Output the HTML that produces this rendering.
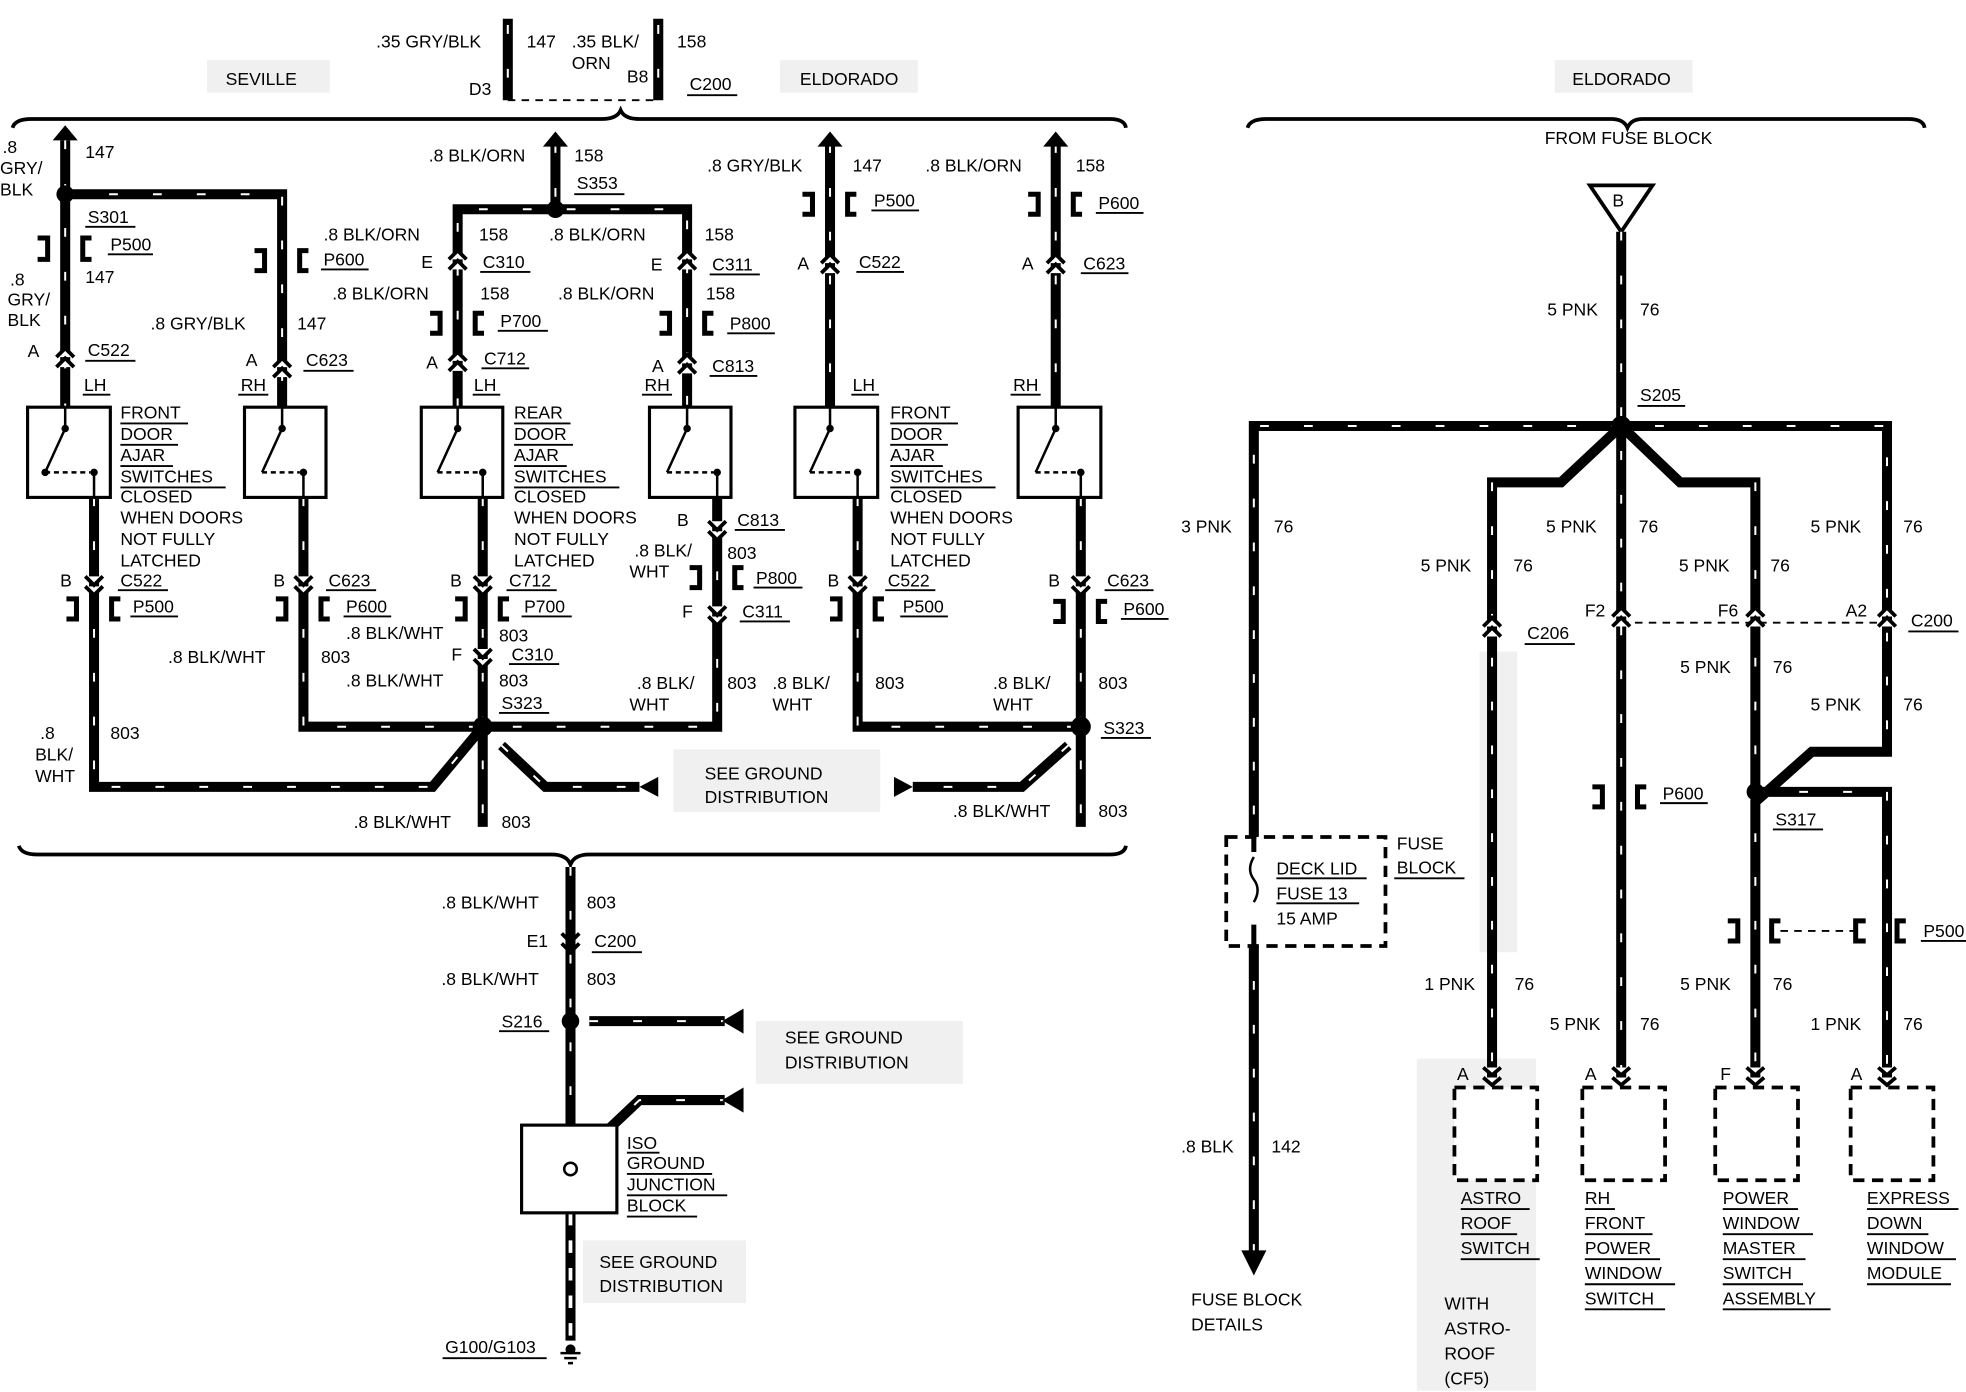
<!DOCTYPE html>
<html><head><meta charset="utf-8"><style>
html,body{margin:0;padding:0;background:#fff}
svg{display:block}
text{font-family:"Liberation Sans",sans-serif;font-size:14px;fill:#000}
.w{fill:none;stroke:#000;stroke-width:8;stroke-linejoin:miter}
.h{fill:none;stroke:#fff;stroke-width:1.6;stroke-dasharray:7 28}
.d{fill:none;stroke:#000;stroke-width:1.5;stroke-dasharray:6 5}
.b{fill:none;stroke:#000;stroke-width:3}
.bx{fill:#fff;stroke:#000;stroke-width:2.5}
.db{fill:#fff;stroke:#000;stroke-width:3;stroke-dasharray:9 6}
.ul{stroke:#000;stroke-width:1.5}
.st{fill:#f0f0f0}
</style></head><body>
<svg width="1966" height="1392" viewBox="0 0 1568 1111" preserveAspectRatio="none" xmlns="http://www.w3.org/2000/svg">
<rect class="st" x="165" y="48" width="98" height="26"/>
<rect class="st" x="622" y="48" width="110" height="26"/>
<rect class="st" x="1240" y="48" width="110" height="26"/>
<rect class="st" x="537" y="598" width="165" height="50"/>
<rect class="st" x="603" y="815" width="165" height="50"/>
<rect class="st" x="465" y="990" width="130" height="50"/>
<rect class="st" x="1130" y="845" width="95" height="265"/>
<rect class="st" x="1180" y="520" width="30" height="240"/>

<path class="w" d="M405 15 V80 M525 15 V80"/>
<path class="h" d="M405 20 V80 M525 20 V80"/>
<line class="d" x1="405" y1="80" x2="525" y2="80"/>
<text x="300" y="38">.35 GRY/BLK</text><text x="420" y="38">147</text>
<text x="456" y="38">.35 BLK/</text><text x="456" y="55">ORN</text><text x="540" y="38">158</text>
<text x="374" y="76">D3</text><text x="500" y="66">B8</text><text x="550" y="72">C200</text>
<line class="ul" x1="548" y1="76" x2="588" y2="76"/>
<text x="180" y="68">SEVILLE</text><text x="638" y="68">ELDORADO</text>

<path class="b" d="M10 102 Q12 95 25 95 H480 Q492 95 495 88 Q498 95 510 95 H885 Q897 95 898 102"/>
<path class="b" d="M15 675 Q17 682 30 682 H440 Q452 682 455 690 Q458 682 470 682 H885 Q897 682 898 675"/>
<path class="b" d="M995 102 Q997 95 1010 95 H1285 Q1295 95 1298 102 Q1301 95 1310 95 H1522 Q1534 95 1535 102"/>

<path class="w" d="M52 112 V325 M52 155 H225 V325 M443 115 V167 M365 325 V167 H548 V325 M662 115 V325 M842 115 V325"/>
<path class="h" d="M52 112 V325 M52 155 H225 V325 M443 115 V167 M365 325 V167 H548 V325 M662 115 V325 M842 115 V325"/>
<g fill="#000">
<path d="M42 112 L52 100 L62 112Z"/><path d="M433 117 L443 105 L453 117Z"/>
<path d="M652 117 L662 105 L672 117Z"/><path d="M832 117 L842 105 L852 117Z"/>
<circle cx="52" cy="155" r="7"/><circle cx="443" cy="167" r="7"/>
</g>

<path class="w" d="M75 397 V628 H345 L385 580 M242 397 V580 H572 V397 M385 397 V660 M400 595 L435 628 H510 M684 397 V580 H862 M862 397 V660 M852 595 L815 628 H728"/>
<path class="h" d="M75 397 V628 H345 L385 580 M242 397 V580 H572 V397 M385 397 V660 M400 595 L435 628 H510 M684 397 V580 H862 M862 397 V660 M852 595 L815 628 H728"/>
<g fill="#000">
<circle cx="385" cy="580" r="8"/><circle cx="862" cy="580" r="8"/>
<path d="M525 620 L510 628 L525 636Z"/><path d="M713 620 L728 628 L713 636Z"/>
</g>

<g fill="#fff" stroke="#000" stroke-width="3">
<path d="M45 285 L52 278 L59 285 M45 293 L52 286 L59 293"/>
<path d="M218 293 L225 286 L232 293 M218 301 L225 294 L232 301"/>
<path d="M358 207 L365 200 L372 207 M358 215 L365 208 L372 215"/>
<path d="M541 207 L548 200 L555 207 M541 215 L548 208 L555 215"/>
<path d="M358 288 L365 281 L372 288 M358 296 L365 289 L372 296"/>
<path d="M541 290 L548 283 L555 290 M541 298 L548 291 L555 298"/>
<path d="M655 210 L662 203 L669 210 M655 218 L662 211 L669 218"/>
<path d="M835 210 L842 203 L849 210 M835 218 L842 211 L849 218"/>
<path d="M68 460 L75 467 L82 460 M68 468 L75 475 L82 468"/>
<path d="M235 460 L242 467 L249 460 M235 468 L242 475 L249 468"/>
<path d="M378 460 L385 467 L392 460 M378 468 L385 475 L392 468"/>
<path d="M378 518 L385 525 L392 518 M378 526 L385 533 L392 526"/>
<path d="M565 416 L572 423 L579 416 M565 424 L572 431 L579 424"/>
<path d="M565 484 L572 491 L579 484 M565 492 L572 499 L579 492"/>
<path d="M677 460 L684 467 L691 460 M677 468 L684 475 L691 468"/>
<path d="M855 460 L862 467 L869 460 M855 468 L862 475 L869 468"/>
<path d="M448 745 L455 752 L462 745 M448 753 L455 760 L462 753"/>
</g>
<g fill="none" stroke="#000" stroke-width="4">
<path d="M30 190 H38 V207 H30 M73 190 H66 V207 H73"/>
<path d="M203 200 H211 V216 H203 M246 200 H239 V216 H246"/>
<path d="M343 250 H351 V266 H343 M386 250 H379 V266 H386"/>
<path d="M526 250 H534 V266 H526 M569 250 H562 V266 H569"/>
<path d="M640 155 H648 V171 H640 M683 155 H676 V171 H683"/>
<path d="M820 155 H828 V171 H820 M863 155 H856 V171 H863"/>
<path d="M53 478 H61 V494 H53 M96 478 H89 V494 H96"/>
<path d="M220 478 H228 V494 H220 M263 478 H256 V494 H263"/>
<path d="M363 478 H371 V494 H363 M406 478 H399 V494 H406"/>
<path d="M550 453 H558 V469 H550 M593 453 H586 V469 H593"/>
<path d="M662 478 H670 V494 H662 M705 478 H698 V494 H705"/>
<path d="M840 480 H848 V496 H840 M883 480 H876 V496 H883"/>
<path d="M1270 628 H1278 V644 H1270 M1313 628 H1306 V644 H1313"/>
<path d="M1378 735 H1386 V751 H1378 M1420 735 H1413 V751 H1420"/>
<path d="M1488 735 H1480 V751 H1488 M1520 735 H1513 V751 H1520"/>
</g>
<line class="d" x1="1420" y1="743" x2="1480" y2="743"/>

<g>
<rect class="bx" x="22" y="325" width="66" height="72"/><rect class="bx" x="195" y="325" width="65" height="72"/>
<rect class="bx" x="336" y="325" width="65" height="72"/><rect class="bx" x="518" y="325" width="65" height="72"/>
<rect class="bx" x="634" y="325" width="66" height="72"/><rect class="bx" x="812" y="325" width="66" height="72"/>
</g>
<g fill="none" stroke="#000" stroke-width="2">
<path d="M52 325 V342 L36 377 M75 397 V377"/><path d="M36 377 H72" stroke-dasharray="4 3"/>
<path d="M225 325 V342 L209 377 M242 397 V377"/><path d="M209 377 H239" stroke-dasharray="4 3"/>
<path d="M365 325 V342 L349 377 M385 397 V377"/><path d="M349 377 H382" stroke-dasharray="4 3"/>
<path d="M548 325 V342 L532 377 M572 397 V377"/><path d="M532 377 H569" stroke-dasharray="4 3"/>
<path d="M662 325 V342 L646 377 M684 397 V377"/><path d="M646 377 H681" stroke-dasharray="4 3"/>
<path d="M842 325 V342 L826 377 M862 397 V377"/><path d="M826 377 H859" stroke-dasharray="4 3"/>
</g>
<g fill="#000"><circle cx="52" cy="342" r="3"/><circle cx="75" cy="377" r="3"/><circle cx="36" cy="377" r="3"/>
<circle cx="225" cy="342" r="3"/><circle cx="242" cy="377" r="3"/><circle cx="365" cy="342" r="3"/><circle cx="385" cy="377" r="3"/>
<circle cx="548" cy="342" r="3"/><circle cx="572" cy="377" r="3"/><circle cx="662" cy="342" r="3"/><circle cx="684" cy="377" r="3"/>
<circle cx="842" cy="342" r="3"/><circle cx="862" cy="377" r="3"/></g>

<text x="2" y="122">.8</text><text x="0" y="139">GRY/</text><text x="0" y="156">BLK</text>
<text x="68" y="126">147</text><text x="70" y="178">S301</text><line class="ul" x1="68" y1="181" x2="108" y2="181"/>
<text x="88" y="200">P500</text><line class="ul" x1="86" y1="203" x2="122" y2="203"/>
<text x="68" y="226">147</text>
<text x="8" y="228">.8</text><text x="6" y="244">GRY/</text><text x="6" y="260">BLK</text>
<text x="120" y="263">.8 GRY/BLK</text><text x="237" y="263">147</text>
<text x="258" y="212">P600</text><line class="ul" x1="256" y1="215" x2="294" y2="215"/>
<text x="22" y="285">A</text><text x="70" y="284">C522</text><line class="ul" x1="68" y1="288" x2="108" y2="288"/>
<text x="196" y="292">A</text><text x="244" y="292">C623</text><line class="ul" x1="242" y1="296" x2="282" y2="296"/>
<text x="67" y="312">LH</text><line class="ul" x1="66" y1="315" x2="88" y2="315"/>
<text x="192" y="312">RH</text><line class="ul" x1="190" y1="315" x2="214" y2="315"/>
<g>
<text x="96" y="334">FRONT</text><text x="96" y="351">DOOR</text><text x="96" y="368">AJAR</text><text x="96" y="385">SWITCHES</text>
<line class="ul" x1="96" y1="338" x2="150" y2="338"/><line class="ul" x1="96" y1="355" x2="142" y2="355"/><line class="ul" x1="96" y1="372" x2="138" y2="372"/><line class="ul" x1="96" y1="389" x2="180" y2="389"/>
<text x="96" y="401">CLOSED</text><text x="96" y="418">WHEN DOORS</text><text x="96" y="435">NOT FULLY</text><text x="96" y="452">LATCHED</text>
</g>
<g>
<text x="410" y="334">REAR</text><text x="410" y="351">DOOR</text><text x="410" y="368">AJAR</text><text x="410" y="385">SWITCHES</text>
<line class="ul" x1="410" y1="338" x2="455" y2="338"/><line class="ul" x1="410" y1="355" x2="457" y2="355"/><line class="ul" x1="410" y1="372" x2="452" y2="372"/><line class="ul" x1="410" y1="389" x2="494" y2="389"/>
<text x="410" y="401">CLOSED</text><text x="410" y="418">WHEN DOORS</text><text x="410" y="435">NOT FULLY</text><text x="410" y="452">LATCHED</text>
</g>
<g>
<text x="710" y="334">FRONT</text><text x="710" y="351">DOOR</text><text x="710" y="368">AJAR</text><text x="710" y="385">SWITCHES</text>
<line class="ul" x1="710" y1="338" x2="764" y2="338"/><line class="ul" x1="710" y1="355" x2="756" y2="355"/><line class="ul" x1="710" y1="372" x2="752" y2="372"/><line class="ul" x1="710" y1="389" x2="794" y2="389"/>
<text x="710" y="401">CLOSED</text><text x="710" y="418">WHEN DOORS</text><text x="710" y="435">NOT FULLY</text><text x="710" y="452">LATCHED</text>
</g>
<text x="342" y="129">.8 BLK/ORN</text><text x="458" y="129">158</text>
<text x="460" y="151">S353</text><line class="ul" x1="458" y1="155" x2="498" y2="155"/>
<text x="258" y="192">.8 BLK/ORN</text><text x="382" y="192">158</text>
<text x="438" y="192">.8 BLK/ORN</text><text x="562" y="192">158</text>
<text x="336" y="214">E</text><text x="385" y="214">C310</text><line class="ul" x1="383" y1="217" x2="423" y2="217"/>
<text x="519" y="216">E</text><text x="568" y="216">C311</text><line class="ul" x1="566" y1="219" x2="606" y2="219"/>
<text x="265" y="239">.8 BLK/ORN</text><text x="383" y="239">158</text>
<text x="445" y="239">.8 BLK/ORN</text><text x="563" y="239">158</text>
<text x="399" y="261">P700</text><line class="ul" x1="397" y1="264" x2="437" y2="264"/>
<text x="582" y="263">P800</text><line class="ul" x1="580" y1="266" x2="618" y2="266"/>
<text x="340" y="294">A</text><text x="386" y="291">C712</text><line class="ul" x1="384" y1="294" x2="422" y2="294"/>
<text x="520" y="297">A</text><text x="568" y="297">C813</text><line class="ul" x1="566" y1="300" x2="604" y2="300"/>
<text x="378" y="312">LH</text><line class="ul" x1="377" y1="315" x2="399" y2="315"/>
<text x="514" y="312">RH</text><line class="ul" x1="512" y1="315" x2="536" y2="315"/>
<text x="564" y="137">.8 GRY/BLK</text><text x="680" y="137">147</text>
<text x="738" y="137">.8 BLK/ORN</text><text x="858" y="137">158</text>
<text x="697" y="165">P500</text><line class="ul" x1="695" y1="168" x2="733" y2="168"/>
<text x="876" y="167">P600</text><line class="ul" x1="874" y1="170" x2="912" y2="170"/>
<text x="636" y="215">A</text><text x="685" y="214">C522</text><line class="ul" x1="683" y1="217" x2="721" y2="217"/>
<text x="815" y="215">A</text><text x="864" y="215">C623</text><line class="ul" x1="862" y1="218" x2="900" y2="218"/>
<text x="680" y="312">LH</text><line class="ul" x1="679" y1="315" x2="701" y2="315"/>
<text x="808" y="312">RH</text><line class="ul" x1="806" y1="315" x2="830" y2="315"/>

<text x="48" y="468">B</text><text x="96" y="468">C522</text><line class="ul" x1="94" y1="471" x2="134" y2="471"/>
<text x="218" y="468">B</text><text x="262" y="468">C623</text><line class="ul" x1="260" y1="471" x2="300" y2="471"/>
<text x="359" y="468">B</text><text x="406" y="468">C712</text><line class="ul" x1="404" y1="471" x2="444" y2="471"/>
<text x="540" y="420">B</text><text x="588" y="420">C813</text><line class="ul" x1="586" y1="423" x2="626" y2="423"/>
<text x="580" y="446">803</text><text x="506" y="444">.8 BLK/</text><text x="502" y="461">WHT</text>
<text x="660" y="468">B</text><text x="708" y="468">C522</text><line class="ul" x1="706" y1="471" x2="746" y2="471"/>
<text x="836" y="468">B</text><text x="883" y="468">C623</text><line class="ul" x1="881" y1="471" x2="920" y2="471"/>
<text x="106" y="489">P500</text><line class="ul" x1="104" y1="492" x2="142" y2="492"/>
<text x="276" y="489">P600</text><line class="ul" x1="274" y1="492" x2="312" y2="492"/>
<text x="418" y="489">P700</text><line class="ul" x1="416" y1="492" x2="456" y2="492"/>
<text x="603" y="466">P800</text><line class="ul" x1="601" y1="469" x2="640" y2="469"/>
<text x="720" y="489">P500</text><line class="ul" x1="718" y1="492" x2="756" y2="492"/>
<text x="896" y="491">P600</text><line class="ul" x1="894" y1="494" x2="932" y2="494"/>
<text x="544" y="493">F</text><text x="592" y="493">C311</text><line class="ul" x1="590" y1="496" x2="630" y2="496"/>
<text x="276" y="510">.8 BLK/WHT</text><text x="398" y="512">803</text>
<text x="134" y="529">.8 BLK/WHT</text><text x="256" y="529">803</text>
<text x="360" y="527">F</text><text x="408" y="527">C310</text><line class="ul" x1="406" y1="530" x2="446" y2="530"/>
<text x="276" y="548">.8 BLK/WHT</text><text x="398" y="548">803</text>
<text x="400" y="566">S323</text><line class="ul" x1="398" y1="569" x2="438" y2="569"/>
<text x="508" y="550">.8 BLK/</text><text x="502" y="567">WHT</text><text x="580" y="550">803</text>
<text x="616" y="550">.8 BLK/</text><text x="616" y="567">WHT</text><text x="698" y="550">803</text>
<text x="792" y="550">.8 BLK/</text><text x="792" y="567">WHT</text><text x="876" y="550">803</text>
<text x="880" y="586">S323</text><line class="ul" x1="878" y1="589" x2="918" y2="589"/>
<text x="32" y="590">.8</text><text x="28" y="607">BLK/</text><text x="28" y="624">WHT</text><text x="88" y="590">803</text>
<text x="562" y="622">SEE GROUND</text><text x="562" y="641">DISTRIBUTION</text>
<text x="282" y="661">.8 BLK/WHT</text><text x="400" y="661">803</text>
<text x="760" y="652">.8 BLK/WHT</text><text x="876" y="652">803</text>

<path class="w" d="M455 692 V900 M455 968 V1070 M470 815 H578 M455 930 L510 878 H578"/>
<path class="h" d="M455 692 V900 M470 815 H578 M455 930 L510 878 H578"/>
<path d="M455 968 V1070" stroke="#fff" stroke-width="3" stroke-dasharray="10 12" fill="none"/>
<g fill="#000"><circle cx="455" cy="815" r="7"/><path d="M593 805 L576 815 L593 825Z"/><path d="M593 868 L576 878 L593 888Z"/></g>
<rect class="bx" x="416" y="898" width="76" height="70"/>
<circle cx="455" cy="933" r="5" fill="#fff" stroke="#000" stroke-width="2"/>
<path d="M447 1080 H463 M450 1084 H460 M453 1088 H457" stroke="#000" stroke-width="2"/><circle cx="455" cy="1077" r="4"/>
<text x="352" y="725">.8 BLK/WHT</text><text x="468" y="725">803</text>
<text x="420" y="756">E1</text><text x="474" y="756">C200</text><line class="ul" x1="472" y1="760" x2="512" y2="760"/>
<text x="352" y="786">.8 BLK/WHT</text><text x="468" y="786">803</text>
<text x="400" y="820">S216</text><line class="ul" x1="398" y1="823" x2="438" y2="823"/>
<text x="626" y="833">SEE GROUND</text><text x="626" y="853">DISTRIBUTION</text>
<text x="500" y="917">ISO</text><text x="500" y="933">GROUND</text><text x="500" y="950">JUNCTION</text><text x="500" y="967">BLOCK</text>
<line class="ul" x1="500" y1="920" x2="526" y2="920"/><line class="ul" x1="500" y1="937" x2="568" y2="937"/><line class="ul" x1="500" y1="954" x2="580" y2="954"/><line class="ul" x1="500" y1="971" x2="556" y2="971"/>
<text x="478" y="1012">SEE GROUND</text><text x="478" y="1031">DISTRIBUTION</text>
<text x="355" y="1080">G100/G103</text><line class="ul" x1="353" y1="1084" x2="436" y2="1084"/>

<text x="1254" y="68">ELDORADO</text>
<text x="1232" y="115">FROM FUSE BLOCK</text>
<path d="M1268 148 H1318 L1293 185Z" fill="#fff" stroke="#000" stroke-width="3"/>
<text x="1286" y="165">B</text>
<path class="w" d="M1293 185 V860 M1000 1000 V340 H1505 V600 H1445 L1400 640 V860 M1400 632 H1505 V860 M1293 340 L1340 385 H1400 V632 M1293 340 L1245 385 H1190 V860"/>
<path class="h" d="M1293 185 V860 M1000 1000 V340 H1505 V600 M1400 632 H1505 V860 M1400 385 V860 M1190 385 V860"/>
<g fill="#000"><circle cx="1293" cy="340" r="8"/><circle cx="1400" cy="632" r="7"/><path d="M990 998 L1000 1018 L1010 998Z"/></g>
<line class="d" x1="1293" y1="497" x2="1505" y2="497"/>
<g fill="#fff" stroke="#000" stroke-width="3">
<path d="M1183 500 L1190 493 L1197 500 M1183 508 L1190 501 L1197 508"/>
<path d="M1286 492 L1293 485 L1300 492 M1286 500 L1293 493 L1300 500"/>
<path d="M1393 492 L1400 485 L1407 492 M1393 500 L1400 493 L1407 500"/>
<path d="M1498 492 L1505 485 L1512 492 M1498 500 L1505 493 L1512 500"/>
<path d="M1183 852 L1190 858 L1197 852 M1183 860 L1190 866 L1197 860"/>
<path d="M1286 852 L1293 858 L1300 852 M1286 860 L1293 866 L1300 860"/>
<path d="M1393 852 L1400 858 L1407 852 M1393 860 L1400 866 L1407 860"/>
<path d="M1498 852 L1505 858 L1512 852 M1498 860 L1505 866 L1512 860"/>
</g>
<rect class="db" x="978" y="668" width="127" height="87"/>
<path d="M1000 668 V680 M1000 738 V755" stroke="#000" stroke-width="4"/>
<path d="M1000 684 Q994 694 1000 702 Q1006 710 1000 720" stroke="#000" stroke-width="2" fill="none"/>
<text x="1018" y="698">DECK LID</text><text x="1018" y="718">FUSE 13</text><text x="1018" y="738">15 AMP</text>
<line class="ul" x1="1018" y1="701" x2="1090" y2="701"/><line class="ul" x1="1018" y1="721" x2="1084" y2="721"/>
<text x="1114" y="678">FUSE</text><text x="1114" y="697">BLOCK</text><line class="ul" x1="1112" y1="701" x2="1168" y2="701"/>
<rect class="db" x="1160" y="868" width="66" height="74"/><rect class="db" x="1262" y="868" width="66" height="74"/>
<rect class="db" x="1368" y="868" width="66" height="74"/><rect class="db" x="1476" y="868" width="66" height="74"/>
<text x="1234" y="252">5 PNK</text><text x="1308" y="252">76</text>
<text x="1308" y="320">S205</text><line class="ul" x1="1306" y1="324" x2="1344" y2="324"/>
<text x="942" y="425">3 PNK</text><text x="1016" y="425">76</text>
<text x="1233" y="425">5 PNK</text><text x="1307" y="425">76</text>
<text x="1444" y="425">5 PNK</text><text x="1518" y="425">76</text>
<text x="1133" y="456">5 PNK</text><text x="1207" y="456">76</text>
<text x="1339" y="456">5 PNK</text><text x="1412" y="456">76</text>
<text x="1264" y="492">F2</text><text x="1370" y="492">F6</text><text x="1472" y="492">A2</text>
<text x="1524" y="500">C200</text><line class="ul" x1="1522" y1="504" x2="1562" y2="504"/>
<text x="1218" y="510">C206</text><line class="ul" x1="1216" y1="514" x2="1256" y2="514"/>
<text x="1340" y="537">5 PNK</text><text x="1414" y="537">76</text>
<text x="1444" y="567">5 PNK</text><text x="1518" y="567">76</text>
<text x="1326" y="638">P600</text><line class="ul" x1="1324" y1="641" x2="1362" y2="641"/>
<text x="1416" y="659">S317</text><line class="ul" x1="1414" y1="662" x2="1454" y2="662"/>
<text x="1534" y="748">P500</text><line class="ul" x1="1532" y1="751" x2="1568" y2="751"/>
<text x="1136" y="790">1 PNK</text><text x="1208" y="790">76</text>
<text x="1340" y="790">5 PNK</text><text x="1414" y="790">76</text>
<text x="1236" y="822">5 PNK</text><text x="1308" y="822">76</text>
<text x="1444" y="822">1 PNK</text><text x="1518" y="822">76</text>
<text x="1162" y="862">A</text><text x="1264" y="862">A</text><text x="1372" y="862">F</text><text x="1476" y="862">A</text>
<text x="942" y="920">.8 BLK</text><text x="1014" y="920">142</text>
<text x="1165" y="961">ASTRO</text><text x="1165" y="981">ROOF</text><text x="1165" y="1001">SWITCH</text>
<line class="ul" x1="1165" y1="965" x2="1220" y2="965"/><line class="ul" x1="1165" y1="985" x2="1210" y2="985"/><line class="ul" x1="1165" y1="1005" x2="1228" y2="1005"/>
<text x="1264" y="961">RH</text><text x="1264" y="981">FRONT</text><text x="1264" y="1001">POWER</text><text x="1264" y="1021">WINDOW</text><text x="1264" y="1041">SWITCH</text>
<line class="ul" x1="1264" y1="965" x2="1288" y2="965"/><line class="ul" x1="1264" y1="985" x2="1318" y2="985"/><line class="ul" x1="1264" y1="1005" x2="1324" y2="1005"/><line class="ul" x1="1264" y1="1025" x2="1336" y2="1025"/><line class="ul" x1="1264" y1="1045" x2="1328" y2="1045"/>
<text x="1374" y="961">POWER</text><text x="1374" y="981">WINDOW</text><text x="1374" y="1001">MASTER</text><text x="1374" y="1021">SWITCH</text><text x="1374" y="1041">ASSEMBLY</text>
<line class="ul" x1="1374" y1="965" x2="1434" y2="965"/><line class="ul" x1="1374" y1="985" x2="1446" y2="985"/><line class="ul" x1="1374" y1="1005" x2="1440" y2="1005"/><line class="ul" x1="1374" y1="1025" x2="1438" y2="1025"/><line class="ul" x1="1374" y1="1045" x2="1460" y2="1045"/>
<text x="1489" y="961">EXPRESS</text><text x="1489" y="981">DOWN</text><text x="1489" y="1001">WINDOW</text><text x="1489" y="1021">MODULE</text>
<line class="ul" x1="1489" y1="965" x2="1562" y2="965"/><line class="ul" x1="1489" y1="985" x2="1538" y2="985"/><line class="ul" x1="1489" y1="1005" x2="1560" y2="1005"/><line class="ul" x1="1489" y1="1025" x2="1556" y2="1025"/>
<text x="950" y="1042">FUSE BLOCK</text><text x="950" y="1062">DETAILS</text>
<text x="1152" y="1045">WITH</text><text x="1152" y="1065">ASTRO-</text><text x="1152" y="1085">ROOF</text><text x="1152" y="1105">(CF5)</text>
</svg>
</body></html>
